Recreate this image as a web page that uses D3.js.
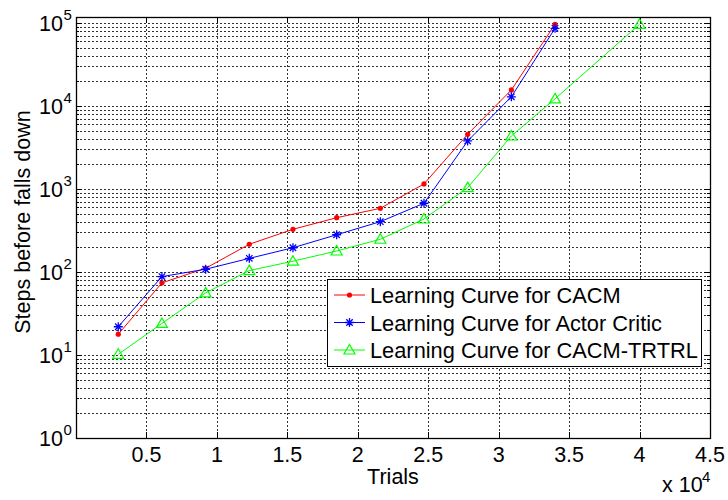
<!DOCTYPE html>
<html>
<head>
<meta charset="utf-8">
<script src="https://cdn.jsdelivr.net/npm/d3@7"></script>
<style>
body { margin: 0; background: #fff; }
text { font-family: "Liberation Sans", Arial, sans-serif; fill: #000; }
</style>
</head>
<body>
<script>
// data
var trials = [3000, 6100, 9200, 12300, 15400, 18500, 21600, 24700, 27800, 30900, 34000]
var cacm = [17.8, 74, 111, 216, 327, 451, 585, 1150, 4560, 15600, 96400]
var actorCritic = [21.9, 88, 108, 146, 196, 281, 404, 673, 3790, 12900, 86300]
var trialsTrtrl = [3000, 6100, 9200, 12300, 15400, 18500, 21600, 24700, 27800, 30900, 34000, 40000]
var trtrl = [10.2, 24, 56, 104, 135, 179, 248, 435, 1040, 4350, 12200, 96400]
var xTicks = [5000, 10000, 15000, 20000, 25000, 30000, 35000, 40000, 45000]
var xTickLabels = ['0.5', '1', '1.5', '2', '2.5', '3', '3.5', '4', '4.5']
var yDecades = [0, 1, 2, 3, 4, 5]
var seriesNames = ['Learning Curve for CACM', 'Learning Curve for Actor Critic', 'Learning Curve for CACM-TRTRL']

var w = 728
var h = 500
var pLeft = 76, pRight = 710, pTop = 17, pBottom = 438
var fs = '21.5px'

var svg = d3.select('body').append('svg')
	.attr('width', w)
	.attr('height', h)

var xScale = d3.scaleLinear()
	.domain([0, 45000])
	.range([pLeft, pRight])

// top of the axis sits a bit above 1e5 in the original
var yScale = d3.scaleLog()
	.domain([1, Math.pow(10, (pBottom - pTop) / 83)])
	.range([pBottom, pTop])

// grid values: every 1..9 x 10^k
var gridVals = []
yDecades.forEach(function (k) {
	for (var m = 1; m <= 9; m++) {
		var v = m * Math.pow(10, k)
		if (v <= yScale.domain()[1]) gridVals.push(v)
	}
})

var grid = svg.append('g')
	.attr('stroke', '#000')
	.attr('stroke-width', 1)
	.attr('stroke-dasharray', '2,2')
	.attr('opacity', 0.8)

grid.selectAll('line.h')
	.data(gridVals.filter(function (v) { return v > 1 }))
	.enter().append('line')
	.attr('class', 'h')
	.attr('x1', pLeft).attr('x2', pRight)
	.attr('y1', function (d) { return Math.round(yScale(d)) + 0.5 })
	.attr('y2', function (d) { return Math.round(yScale(d)) + 0.5 })

grid.selectAll('line.v')
	.data(xTicks.filter(function (d) { return d < 45000 }))
	.enter().append('line')
	.attr('class', 'v')
	.attr('y1', pTop).attr('y2', pBottom)
	.attr('x1', function (d) { return Math.round(xScale(d)) + 0.5 })
	.attr('x2', function (d) { return Math.round(xScale(d)) + 0.5 })

// tick marks inside the box
var ticks = svg.append('g').attr('stroke', '#000').attr('stroke-width', 1)
xTicks.forEach(function (t) {
	var x = Math.round(xScale(t)) + 0.5
	ticks.append('line').attr('x1', x).attr('x2', x).attr('y1', pBottom).attr('y2', pBottom - 6)
	ticks.append('line').attr('x1', x).attr('x2', x).attr('y1', pTop).attr('y2', pTop + 6)
})
gridVals.forEach(function (v) {
	var y = Math.round(yScale(v)) + 0.5
	var len = (Math.abs(Math.log10(v) - Math.round(Math.log10(v))) < 1e-9) ? 6 : 3
	ticks.append('line').attr('x1', pLeft).attr('x2', pLeft + len).attr('y1', y).attr('y2', y)
	ticks.append('line').attr('x1', pRight).attr('x2', pRight - len).attr('y1', y).attr('y2', y)
})

// series
var line = d3.line()
	.x(function (d) { return xScale(d[0]) })
	.y(function (d) { return yScale(d[1]) })

var series = [
	{ name: seriesNames[0], color: '#ff0000', marker: 'dot', pts: d3.zip(trials, cacm) },
	{ name: seriesNames[1], color: '#0000ff', marker: 'star', pts: d3.zip(trials, actorCritic) },
	{ name: seriesNames[2], color: '#00ff00', marker: 'tri', pts: d3.zip(trialsTrtrl, trtrl) }
]

function drawMarker(g, type, color, x, y) {
	if (type == 'dot') {
		g.append('circle').attr('cx', x).attr('cy', y).attr('r', 2.6).attr('fill', color)
	} else if (type == 'star') {
		var s = 4.5, d = 3.2
		g.append('path')
			.attr('d', 'M' + (x - s) + ',' + y + 'H' + (x + s) + 'M' + x + ',' + (y - s) + 'V' + (y + s) +
				'M' + (x - d) + ',' + (y - d) + 'L' + (x + d) + ',' + (y + d) +
				'M' + (x - d) + ',' + (y + d) + 'L' + (x + d) + ',' + (y - d))
			.attr('stroke', color).attr('stroke-width', 1.3).attr('fill', 'none')
	} else {
		g.append('path')
			.attr('d', 'M' + x + ',' + (y - 5.5) + 'L' + (x + 5.5) + ',' + (y + 4) + 'L' + (x - 5.5) + ',' + (y + 4) + 'Z')
			.attr('stroke', color).attr('stroke-width', 1.2).attr('fill', 'none')
	}
}

series.forEach(function (s) {
	var g = svg.append('g')
	g.append('path')
		.datum(s.pts)
		.attr('d', line)
		.attr('fill', 'none')
		.attr('stroke', s.color)
		.attr('stroke-width', 1)
	s.pts.forEach(function (p) {
		drawMarker(g, s.marker, s.color, xScale(p[0]), yScale(p[1]))
	})
})

// box
svg.append('rect')
	.attr('x', pLeft + 0.5).attr('y', pTop + 0.5)
	.attr('width', pRight - pLeft).attr('height', pBottom - pTop)
	.attr('fill', 'none').attr('stroke', '#000').attr('stroke-width', 1.3)

// x tick labels
svg.append('g').selectAll('text')
	.data(xTicks)
	.enter().append('text')
	.attr('x', function (d) { return xScale(d) })
	.attr('y', 461.5)
	.attr('text-anchor', 'middle')
	.style('font-size', fs)
	.text(function (d, i) { return xTickLabels[i] })

// y tick labels 10^k
var yl = svg.append('g')
yDecades.forEach(function (k) {
	var y = yScale(Math.pow(10, k))
	yl.append('text').attr('x', 63).attr('y', y + 8)
		.attr('text-anchor', 'end').style('font-size', fs).text('10')
	yl.append('text').attr('x', 63.5).attr('y', y - 3)
		.style('font-size', '15px').text(k)
})

// exponent note
svg.append('text').attr('x', 662).attr('y', 492).style('font-size', fs).text('x 10')
svg.append('text').attr('x', 702).attr('y', 482).style('font-size', '15px').text('4')

// axis titles
svg.append('text')
	.attr('x', (pLeft + pRight) / 2).attr('y', 484)
	.attr('text-anchor', 'middle')
	.style('font-size', fs)
	.text('Trials')

svg.append('text')
	.attr('transform', 'translate(30,' + 222 + ') rotate(-90)')
	.attr('text-anchor', 'middle')
	.style('font-size', fs)
	.text('Steps before falls down')

// legend
var lg = svg.append('g')
lg.append('rect')
	.attr('x', 327.5).attr('y', 279.5)
	.attr('width', 374).attr('height', 87)
	.attr('fill', '#fff').attr('stroke', '#000').attr('stroke-width', 1)

series.forEach(function (s, i) {
	var y = 295 + i * 27.5
	lg.append('line')
		.attr('x1', 334).attr('x2', 365).attr('y1', y).attr('y2', y)
		.attr('stroke', s.color).attr('stroke-width', 1)
	drawMarker(lg, s.marker, s.color, 349.5, y)
	lg.append('text')
		.attr('x', 370).attr('y', y + 8)
		.style('font-size', '21.8px')
		.text(s.name)
})
</script>
</body>
</html>
